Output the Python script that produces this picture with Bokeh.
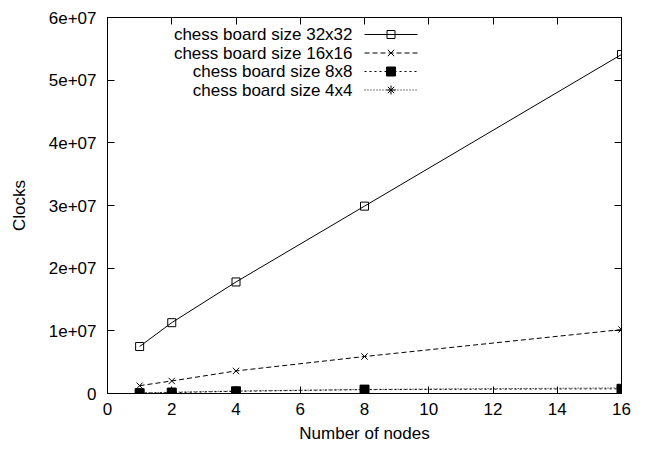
from bokeh.plotting import figure
from bokeh.models import LinearAxis, FixedTicker, Label, Range1d
from bokeh.embed import file_html
from bokeh.resources import INLINE

# Measured clock counts per node count for each board size
nodes = [1, 2, 4, 8, 16]
clocks_32 = [7.5e6, 1.13e7, 1.78e7, 2.99e7, 5.41e7]
clocks_16 = [1.25e6, 2.0e6, 3.6e6, 5.9e6, 1.02e7]
clocks_8 = [5.0e4, 1.5e5, 3.5e5, 6.2e5, 7.5e5]
clocks_4 = [1.0e5, 2.0e5, 4.0e5, 6.5e5, 9.0e5]

series_labels = [
    "chess board size 32x32",
    "chess board size 16x16",
    "chess board size 8x8",
    "chess board size 4x4",
]

x_ticks = [0, 2, 4, 6, 8, 10, 12, 14, 16]
y_ticks = [0, 1e7, 2e7, 3e7, 4e7, 5e7, 6e7]
y_tick_labels = ["0", "1e+07", "2e+07", "3e+07", "4e+07", "5e+07", "6e+07"]

FONT = "Liberation Sans"
FS = "17px"

W, H = 646, 450
FL, FT, FW, FH = 107, 17, 514, 376  # frame placement in pixels
X0, X1 = 0, 16
Y0, Y1 = 0, 6e7

p = figure(
    width=W, height=H, output_backend="svg", toolbar_location=None,
    x_range=Range1d(X0, X1), y_range=Range1d(Y0, Y1),
    min_border_left=FL, min_border_top=FT,
    min_border_right=W - FL - FW, min_border_bottom=H - FT - FH,
    x_axis_label="Number of nodes", y_axis_label="Clocks",
)
p.background_fill_color = "white"
p.border_fill_color = "white"
p.outline_line_color = "black"
p.outline_line_width = 1
p.xgrid.visible = False
p.ygrid.visible = False

xt = FixedTicker(ticks=x_ticks, minor_ticks=[])
yt = FixedTicker(ticks=y_ticks, minor_ticks=[])

def style_axis(ax, ticker):
    ax.ticker = ticker
    ax.axis_line_color = "black"
    ax.major_tick_line_color = "black"
    ax.major_tick_in = 7
    ax.major_tick_out = 0
    ax.minor_tick_line_color = None
    ax.major_label_text_font = FONT
    ax.major_label_text_font_size = FS
    ax.major_label_text_color = "black"
    ax.axis_label_text_font = FONT
    ax.axis_label_text_font_size = FS
    ax.axis_label_text_font_style = "normal"
    ax.axis_label_text_color = "black"

style_axis(p.xaxis[0], xt)
style_axis(p.yaxis[0], yt)
p.xaxis[0].major_label_standoff = 9
p.xaxis[0].axis_label_standoff = 6
p.yaxis[0].major_label_standoff = 11
p.yaxis[0].axis_label_standoff = 17
p.yaxis[0].major_label_overrides = {t: s for t, s in zip(y_ticks, y_tick_labels)}

# Mirrored tick marks on the top and right borders, without labels
top = LinearAxis()
style_axis(top, xt)
top.major_label_overrides = {t: "" for t in x_ticks}
p.add_layout(top, "above")
right = LinearAxis()
style_axis(right, yt)
right.major_label_overrides = {t: "" for t in y_ticks}
p.add_layout(right, "right")

styles = [
    dict(y=clocks_32, dash="solid", marker="square", size=8, fill=None),
    dict(y=clocks_16, dash="5 3", marker="x", size=9, fill=None),
    dict(y=clocks_8, dash="2 3", marker="square", size=9, fill="black"),
    dict(y=clocks_4, dash="1 2", marker="asterisk", size=9, fill=None),
]

for st in styles:
    p.line(nodes, st["y"], line_color="black", line_width=1, line_dash=st["dash"])
    p.scatter(nodes, st["y"], marker=st["marker"], size=st["size"],
              line_color="black", fill_color=st["fill"], line_width=1)

def to_data(px, py):
    x = X0 + (px - FL) / FW * (X1 - X0)
    y = Y1 - (py - FT) / FH * (Y1 - Y0)
    return x, y

# Key box: label right-aligned, sample line and marker to its right
row_y = [34, 52.5, 71, 89.5]
text_right, key_a, key_b = 352, 364, 417
for lbl, st, ry in zip(series_labels, styles, row_y):
    tx, ty = to_data(text_right, ry)
    p.add_layout(Label(x=tx, y=ty, text=lbl, text_align="right",
                       text_baseline="middle", text_font=FONT,
                       text_font_size=FS, text_color="black"))
    xa, ya = to_data(key_a, ry)
    xb, _ = to_data(key_b, ry)
    p.line([xa, xb], [ya, ya], line_color="black", line_width=1, line_dash=st["dash"])
    p.scatter([(xa + xb) / 2], [ya], marker=st["marker"], size=st["size"],
              line_color="black", fill_color=st["fill"], line_width=1)

open("out.html", "w").write(file_html(p, INLINE))
